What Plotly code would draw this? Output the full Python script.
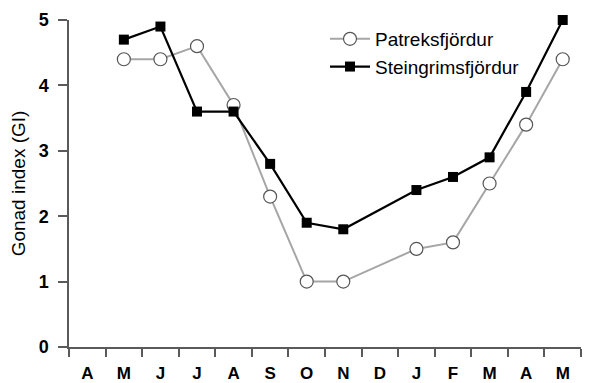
import plotly.graph_objects as go

months = ["A", "M", "J", "J", "A", "S", "O", "N", "D", "J", "F", "M", "A", "M"]
patreks = [None, 4.4, 4.4, 4.6, 3.7, 2.3, 1.0, 1.0, None, 1.5, 1.6, 2.5, 3.4, 4.4]
steingr = [None, 4.7, 4.9, 3.6, 3.6, 2.8, 1.9, 1.8, None, 2.4, 2.6, 2.9, 3.9, 5.0]

x = list(range(len(months)))
font_family = "Liberation Sans, Arial, sans-serif"
axis_color = "#5a5a5a"

fig = go.Figure()
fig.add_trace(go.Scatter(
    x=x, y=patreks, name="Patreksfjördur", mode="lines+markers",
    connectgaps=True, cliponaxis=False,
    line=dict(color="#a6a6a6", width=2),
    marker=dict(symbol="circle", size=13, color="white",
                line=dict(color="#555555", width=1.2)),
))
fig.add_trace(go.Scatter(
    x=x, y=steingr, name="Steingrimsfjördur", mode="lines+markers",
    connectgaps=True, cliponaxis=False,
    line=dict(color="black", width=2.2),
    marker=dict(symbol="square", size=10, color="black"),
))

fig.update_layout(
    width=592, height=383,
    margin=dict(l=69, r=11, t=20, b=36),
    paper_bgcolor="white", plot_bgcolor="white",
    font=dict(family=font_family, color="black"),
    showlegend=True,
    legend=dict(x=0.5, y=1.0, xanchor="left", yanchor="top",
                bgcolor="rgba(0,0,0,0)", font=dict(size=19),
                itemwidth=40, tracegroupgap=0),
    xaxis=dict(
        range=[-0.5, len(months) - 0.5], tickmode="array", tickvals=x,
        ticktext=months, ticks="", showgrid=False, zeroline=False,
        showline=True, linecolor=axis_color, linewidth=1.5,
        ticklabelstandoff=10, automargin=False,
        tickfont=dict(size=17, family=font_family, weight="bold"),
        minor=dict(ticks="outside", tickmode="linear", tick0=-0.5, dtick=1,
                   ticklen=8, tickcolor=axis_color, tickwidth=1.5, showgrid=False),
    ),
    yaxis=dict(
        range=[0, 5], tickvals=[0, 1, 2, 3, 4, 5], ticks="outside",
        ticklen=9, tickcolor=axis_color, tickwidth=1.5,
        showgrid=False, zeroline=False, showline=True,
        linecolor=axis_color, linewidth=1.5, ticklabelstandoff=6,
        automargin=False,
        tickfont=dict(size=18, family=font_family, weight="bold"),
        title=dict(text="Gonad index (GI)", font=dict(size=19), standoff=8),
    ),
)

fig.write_html("out.html")
